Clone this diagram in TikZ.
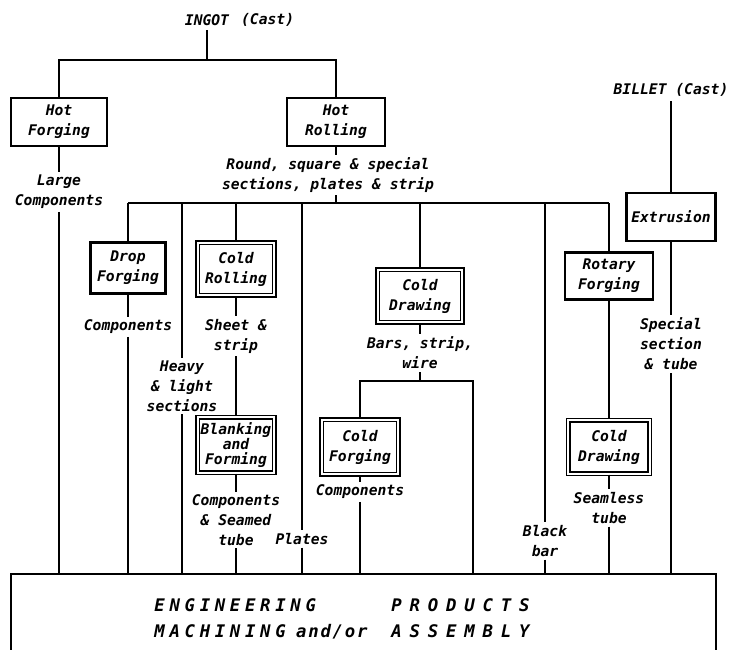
\documentclass[tikz,border=0pt]{standalone}
\usepackage{fontspec}
\setmainfont{DejaVu Sans Mono}
\usetikzlibrary{positioning}

\begin{document}
\begin{tikzpicture}[x=0.75pt,y=-0.75pt,
  font=\fontsize{11}{15}\selectfont\bfseries\itshape,
  proc/.style={draw,line width=2pt,align=center,inner sep=1pt},
  dproc/.style={draw,double,line width=1.3pt,double distance=1.6pt,align=center,inner sep=1pt},
  lbl/.style={align=center,inner sep=2pt},
  flow/.style={line width=1.4pt}]
\useasboundingbox (0,0) rectangle (736,650);
\clip (0,0) rectangle (736,650);
% raw material
\node (ingot) at (207,20) {INGOT};
\node[right=2pt of ingot] (cast) {(Cast)};
\node (billet) at (671,90) {BILLET (Cast)};
% processes
\node[proc,minimum width=72pt,minimum height=36pt] (hf) at (59,122) {Hot\\Forging};
\node[proc,minimum width=73.5pt,minimum height=36pt] (hr) at (336,122) {Hot\\Rolling};
\node[proc,minimum width=56pt,minimum height=38.5pt] (df) at (128,268) {Drop\\Forging};
\node[dproc,minimum width=57.5pt,minimum height=39.5pt] (cr) at (236,269) {Cold\\Rolling};
\node[dproc,minimum width=63.5pt,minimum height=39.5pt] (cd1) at (420,296) {Cold\\Drawing};
\node[proc,minimum width=66.5pt,minimum height=36pt] (ext) at (671,217) {Extrusion};
\node[proc,minimum width=66pt,minimum height=35pt] (rf) at (609,276) {Rotary\\Forging};
\node[dproc,minimum width=57.5pt,minimum height=41.5pt,
  font=\fontsize{11}{11.5}\selectfont\bfseries\itshape] (bf) at (236,445) {Blanking\\and\\Forming};
\node[dproc,minimum width=57.5pt,minimum height=41pt] (cf) at (360,447) {Cold\\Forging};
\node[dproc,minimum width=61pt,minimum height=40pt] (cd2) at (609,447) {Cold\\Drawing};
% products
\node[lbl] (lc) at (59,192) {Large\\Components};
\node[lbl] (rs) at (328,175) {Round, square \& special\\sections, plates \& strip};
\node[lbl] (dc) at (128,327) {Components};
\node[lbl] (ss) at (236,336) {Sheet \&\\strip};
\node[lbl] (hl) at (182,386) {Heavy\\\& light\\sections};
\node[lbl] (bc) at (236,520) {Components\\\& Seamed\\tube};
\node[lbl] (pl) at (302,539) {Plates};
\node[lbl] (bw) at (420,353) {Bars, strip,\\wire};
\node[lbl] (fc) at (360,492) {Components};
\node[lbl] (bb) at (545,541) {Black\\bar};
\node[lbl] (st) at (609,508) {Seamless\\tube};
\node[lbl] (sp) at (671,344) {Special\\section\\\& tube};
% engineering products
\node[draw,line width=1.8pt,minimum width=528.75pt,minimum height=75pt,anchor=north west] (ep) at (10,573) {};
\node (eptxt) at (342,619) {\fontsize{13}{20}\selectfont
  \begin{tabular}{@{}l@{\hspace{18pt}}l@{}}
  \addfontfeatures{LetterSpace=27}ENGINEERING & \addfontfeatures{LetterSpace=45}PRODUCTS\\
  {\addfontfeatures{LetterSpace=27}MACHINING} {\addfontfeatures{LetterSpace=10}and/or} & \addfontfeatures{LetterSpace=45}ASSEMBLY
  \end{tabular}};
% ingot to hot working
\coordinate (tj) at (207,60);
\draw[flow] (ingot) -- (tj);
\draw[flow] (hf) |- (tj) -| (hr);
\draw[flow] (hr) -- (hr |- rs.north);
\coordinate (bl) at (128,203);
\coordinate (br) at (609,203);
\draw[flow] (hr |- rs.south) -- (hr |- bl);
\draw[flow] (bl) -- (br);
% branches off the hot rolled stock
\draw[flow] (bl) -- (df);
\draw[flow] (hl |- bl) -- (hl);
\draw[flow] (cr |- bl) -- (cr);
\draw[flow] (pl |- bl) -- (pl);
\draw[flow] (cd1 |- bl) -- (cd1);
\draw[flow] (bb |- bl) -- (bb);
\draw[flow] (br) -- (rf);
% down to the products
\draw[flow] (hf) -- (lc);
\draw[flow] (lc) -- (lc |- ep.north);
\draw[flow] (df) -- (dc);
\draw[flow] (dc) -- (dc |- ep.north);
\draw[flow] (hl) -- (hl |- ep.north);
\draw[flow] (cr) -- (ss);
\draw[flow] (ss) -- (bf);
\draw[flow] (bf) -- (bc);
\draw[flow] (bc) -- (bc |- ep.north);
\draw[flow] (pl) -- (pl |- ep.north);
\draw[flow] (cd1) -- (bw);
\coordinate (wj) at (473,381);
\draw[flow] (bw) -- (bw |- wj);
\draw[flow] (cf) |- (wj) -- (wj |- ep.north);
\draw[flow] (cf) -- (fc);
\draw[flow] (fc) -- (fc |- ep.north);
\draw[flow] (bb) -- (bb |- ep.north);
\draw[flow] (rf) -- (cd2);
\draw[flow] (cd2) -- (st);
\draw[flow] (st) -- (st |- ep.north);
\draw[flow] (billet) -- (ext);
\draw[flow] (ext) -- (sp);
\draw[flow] (sp) -- (sp |- ep.north);
\end{tikzpicture}
\end{document}
